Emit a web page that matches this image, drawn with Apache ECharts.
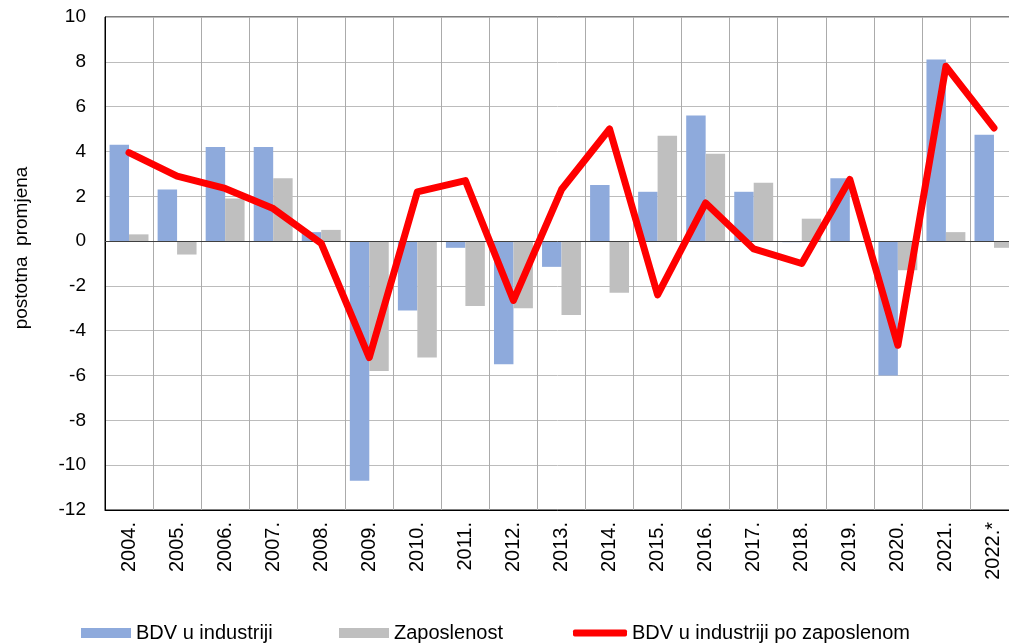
<!DOCTYPE html>
<html>
<head>
<meta charset="utf-8">
<script src="https://cdn.jsdelivr.net/npm/echarts@6/dist/echarts.min.js"></script>
<style>
    html, body { margin: 0; padding: 0; background: #fff; }
    #chart { width: 1009px; height: 643px; }
</style>
</head>
<body>
<div id="chart"></div>
<script>
    // podaci
    const years = ['2004.', '2005.', '2006.', '2007.', '2008.', '2009.', '2010.', '2011.', '2012.', '2013.',
        '2014.', '2015.', '2016.', '2017.', '2018.', '2019.', '2020.', '2021.', '2022.*'];
    const bdvIndustrija = [4.3, 2.3, 4.2, 4.2, 0.4, -10.7, -3.1, -0.3, -5.5, -1.15,
        2.5, 2.2, 5.6, 2.2, -0.05, 2.8, -6.0, 8.1, 4.75];
    const zaposlenost = [0.3, -0.6, 1.9, 2.8, 0.5, -5.8, -5.2, -2.9, -3.0, -3.3,
        -2.3, 4.7, 3.9, 2.6, 1.0, 0, -1.3, 0.4, -0.3];
    const bdvPoZaposlenom = [3.95, 2.9, 2.35, 1.45, -0.1, -5.2, 2.2, 2.7, -2.65, 2.3,
        5.0, -2.4, 1.7, -0.35, -1.0, 2.75, -4.65, 7.8, 5.05];
    const yTicks = {min: -12, max: 10, interval: 2};

    const font = 'Liberation Sans, Arial, sans-serif';
    let myChart = echarts.init(document.getElementById('chart'));

    let legendText = {fontSize: 20, color: '#000', fontFamily: font};

    let option = {
        animation: false,
        textStyle: {fontFamily: font},
        grid: {
            left: 105,
            top: 17,
            right: -9,
            bottom: 133,
            outerBoundsMode: 'none',
            show: true,
            borderColor: '#000',
            borderWidth: 1
        },
        legend: [
            {
                left: 81, top: 623, padding: 0, itemWidth: 50, itemHeight: 10,
                textStyle: legendText,
                data: [{name: 'BDV u industriji', icon: 'rect'}]
            },
            {
                left: 339, top: 623, padding: 0, itemWidth: 50, itemHeight: 10,
                textStyle: legendText,
                data: [{name: 'Zaposlenost', icon: 'rect'}]
            },
            {
                left: 573, top: 623, padding: 0, itemWidth: 54, itemHeight: 7,
                textStyle: legendText,
                data: [{name: 'BDV u industriji po zaposlenom', icon: 'roundRect'}]
            }
        ],
        graphic: [{
            type: 'text',
            x: 22,
            y: 248,
            rotation: Math.PI / 2,
            style: {
                text: 'postotna  promjena',
                font: '19px ' + font,
                fill: '#000',
                align: 'center',
                verticalAlign: 'middle'
            }
        }],
        xAxis: {
            type: 'category',
            data: years,
            axisLine: {onZero: false, lineStyle: {color: '#000', width: 1}},
            axisTick: {show: false},
            axisLabel: {rotate: 90, margin: 12, fontSize: 20, color: '#000', fontFamily: font, interval: 0},
            splitLine: {show: true, interval: 0, lineStyle: {color: '#ababab', width: 1}}
        },
        yAxis: {
            type: 'value',
            min: yTicks.min,
            max: yTicks.max,
            interval: yTicks.interval,
            axisLine: {show: true, lineStyle: {color: '#000', width: 1}},
            axisTick: {show: false},
            axisLabel: {fontSize: 19, color: '#000', margin: 19, fontFamily: font},
            splitLine: {lineStyle: {color: '#bcbcbc', width: 1}}
        },
        series: [
            {
                name: 'BDV u industriji',
                type: 'bar',
                data: bdvIndustrija,
                barGap: '0%',
                barCategoryGap: '19%',
                itemStyle: {color: '#8eaadc'},
                markLine: {
                    silent: true,
                    symbol: 'none',
                    label: {show: false},
                    lineStyle: {color: '#404040', type: 'solid', width: 1},
                    data: [{yAxis: 0}]
                }
            },
            {
                name: 'Zaposlenost',
                type: 'bar',
                data: zaposlenost,
                itemStyle: {color: '#bfbfbf'}
            },
            {
                name: 'BDV u industriji po zaposlenom',
                type: 'line',
                data: bdvPoZaposlenom,
                symbol: 'none',
                z: 5,
                itemStyle: {color: '#ff0000'},
                lineStyle: {color: '#ff0000', width: 7, join: 'round', cap: 'round'}
            }
        ]
    };

    myChart.setOption(option);
</script>
</body>
</html>
